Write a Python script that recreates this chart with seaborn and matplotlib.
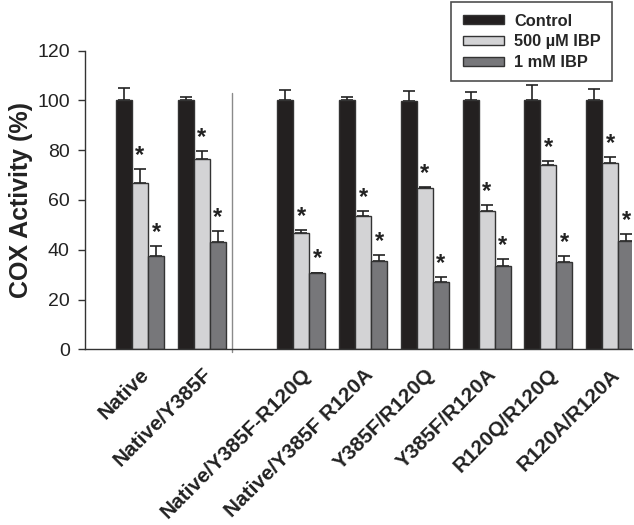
import numpy as np
import pandas as pd
import matplotlib
matplotlib.use("Agg")
import matplotlib.pyplot as plt
from matplotlib.patches import Patch
import seaborn as sns

# ---------------- data ----------------
groups = ["Native", "Native/Y385F", "Native/Y385F-R120Q", "Native/Y385F R120A",
          "Y385F/R120Q", "Y385F/R120A", "R120Q/R120Q", "R120A/R120A"]
series = ["Control", "500 \u00b5M IBP", "1 mM IBP"]
control = [100, 100, 100, 100, 99.8, 100, 100, 100]
control_err = [4.8, 1.5, 4.1, 1.5, 3.8, 3.2, 6.0, 4.5]
ibp500 = [66.7, 76.6, 46.6, 53.7, 64.7, 55.7, 74.0, 74.8]
ibp500_err = [5.7, 3.2, 1.2, 1.7, 0.4, 2.2, 1.6, 2.5]
ibp1mm = [37.5, 43.1, 30.6, 35.6, 27.1, 33.5, 35.1, 43.7]
ibp1mm_err = [4.0, 4.3, 0.3, 2.3, 2.0, 2.7, 2.4, 2.5]
significant = [False, True, True]  # asterisk per series

# layout: group positions on the x axis (gap between the two panels)
positions = [0, 1, 2.614, 3.614, 4.614, 5.614, 6.614, 7.614]
separator_x = 1.486
colors = ["#231f20", "#d3d3d5", "#77777a"]

values = [control, ibp500, ibp1mm]
errors = [control_err, ibp500_err, ibp1mm_err]
rows = []
for si, s in enumerate(series):
    for gi, g in enumerate(groups):
        rows.append({"pos": positions[gi], "group": g, "series": s, "sidx": si,
                     "value": values[si][gi], "err": errors[si][gi]})
df = pd.DataFrame(rows)

# ---------------- plot ----------------
sns.set_theme(style="white")
plt.rcParams["font.family"] = ["Liberation Sans", "DejaVu Sans"]

fig = plt.figure(figsize=(6.34, 5.25), dpi=100)
ax = fig.add_axes([0.134, 0.3343, 0.863, 0.5695])

sns.barplot(data=df, x="pos", y="value", hue="series", hue_order=series,
            palette=colors, native_scale=True, width=0.78, dodge=True,
            errorbar=None, edgecolor="#333333", linewidth=1.0,
            legend=False, ax=ax, zorder=2)

# error bars and asterisks positioned from the drawn bars
bars = sorted([p for p in ax.patches], key=lambda p: p.get_x())
ordered = df.sort_values(["pos", "sidx"]).reset_index(drop=True)
for p, (_, r) in zip(bars, ordered.iterrows()):
    cx = p.get_x() + p.get_width() / 2
    h = p.get_height()
    ax.errorbar(cx, h, yerr=[[0], [r["err"]]], fmt="none", ecolor="#222222",
                elinewidth=1.2, capsize=4.5, capthick=1.2, zorder=1)
    if significant[int(r["sidx"])]:
        ax.annotate("*", (cx, h + r["err"]), xytext=(0, 1.5), textcoords="offset points",
                    ha="center", va="bottom", fontsize=17, fontweight="bold",
                    color="#222222")

ax.plot([separator_x, separator_x], [-1, 103], color="#8a8a8a", lw=1.0,
        clip_on=False, zorder=0)

ax.set_ylim(0, 120)
ax.set_xlim(-0.891, 7.97)
ax.set_yticks(np.arange(0, 121, 20))
ax.tick_params(axis="y", labelsize=14, length=5, width=1, direction="out",
               left=True, colors="#333333", labelcolor="#222222", pad=6)
ax.set_xticks(positions)
ax.set_xticklabels(groups, rotation=45, ha="right", va="top",
                   rotation_mode="anchor", fontsize=15, fontweight="bold",
                   color="#222222")
ax.tick_params(axis="x", length=0, pad=11)
ax.set_xlabel("")
ax.set_ylabel("COX Activity (%)", fontsize=18, fontweight="bold",
              color="#222222", labelpad=3)

sns.despine(ax=ax)
for sp in ["left", "bottom"]:
    ax.spines[sp].set_color("#333333")
    ax.spines[sp].set_linewidth(1.0)

handles = [Patch(facecolor=c, edgecolor="#333333", linewidth=1.0) for c in colors]
leg = ax.legend(handles, series, loc="upper right", bbox_to_anchor=(0.964, 1.162),
                borderaxespad=0, frameon=True, fancybox=False,
                prop={"weight": "bold", "size": 11.8}, handlelength=2.5,
                handleheight=0.5, labelspacing=0.35, handletextpad=0.65,
                borderpad=0.7)
leg.get_frame().set_edgecolor("#222222")
leg.get_frame().set_linewidth(1.2)

fig.savefig("out.png", dpi=100)
